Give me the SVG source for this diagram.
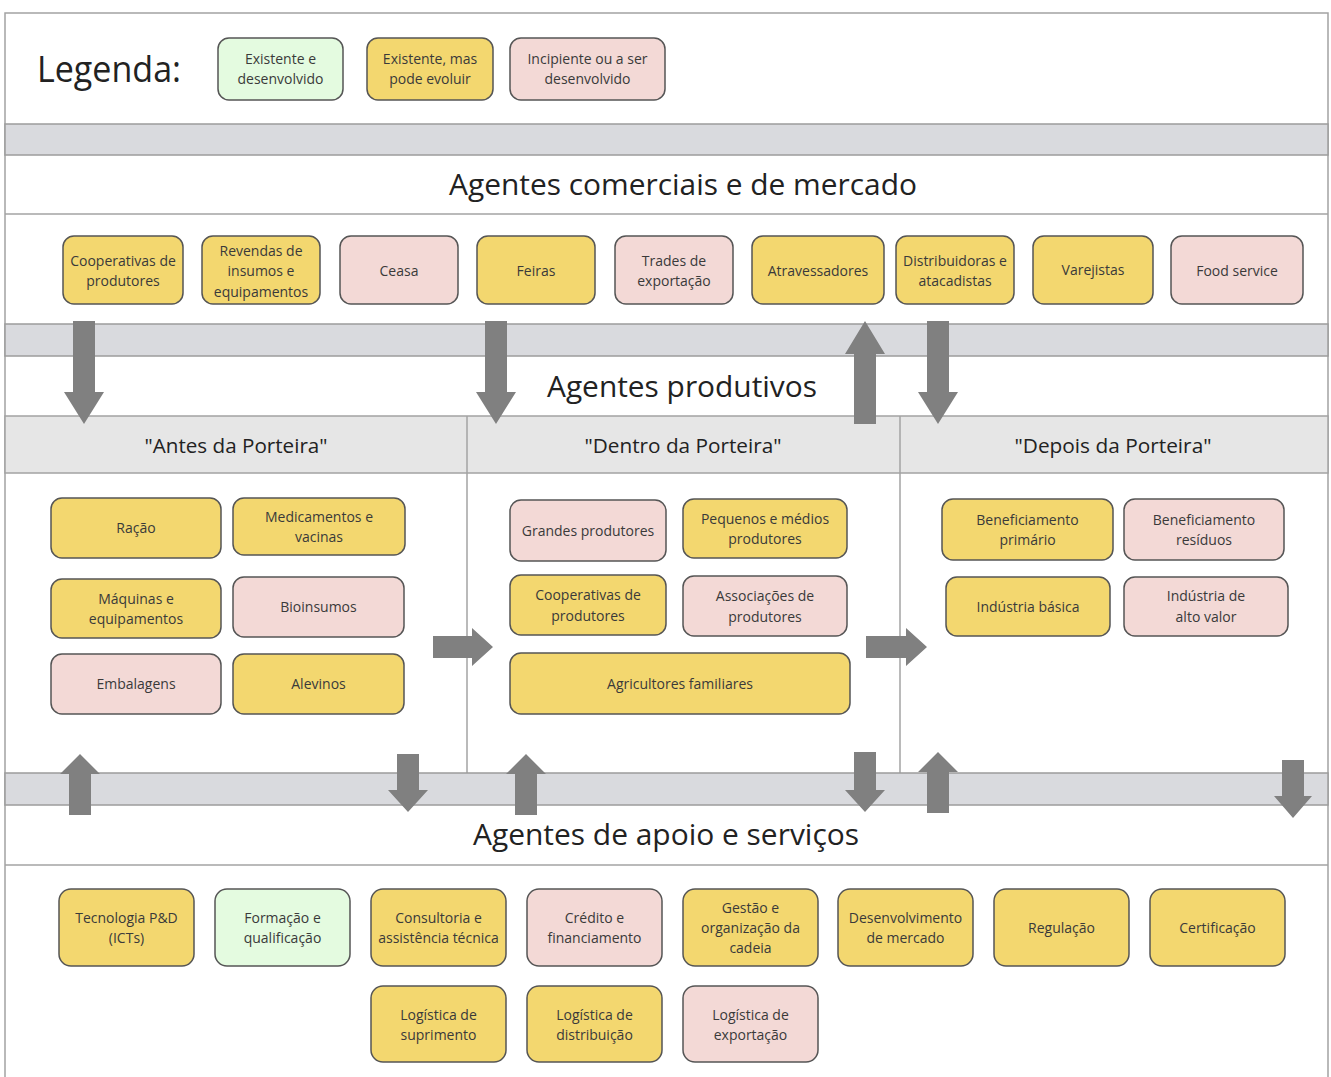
<svg xmlns="http://www.w3.org/2000/svg" width="1331" height="1077" viewBox="0 0 1331 1077">
  <style>
    .frame { fill: none; stroke: #a3a3a3; stroke-width: 1.5; }
    .band { fill: #d9dade; stroke: #9c9c9c; stroke-width: 1.5; }
    .sub { fill: #e6e6e6; stroke: #a3a3a3; stroke-width: 1.5; }
    .node rect { stroke: #555; stroke-width: 1.5; }
    .y rect { fill: #f3d76f; }
    .p rect { fill: #f3d9d6; }
    .g rect { fill: #e4fbe0; }
    .node text { font-family: "Open Sans", "Liberation Sans", sans-serif; font-size: 14px; fill: #3a3a3a; text-anchor: middle; }
    .h1 { font-family: "Open Sans", "Liberation Sans", sans-serif; font-size: 30px; fill: #222; text-anchor: middle; }
    .h2 { font-family: "Open Sans", "Liberation Sans", sans-serif; font-size: 20px; fill: #222; text-anchor: middle; }
    .arrow { fill: #808080; }
  </style>

  <!-- page background -->
  <rect x="0" y="0" width="1331" height="1077" fill="#ffffff"/>

  <!-- section frames and bands -->
  <g id="layout">
    <path class="frame" d="M5,1077 V13 H1328 V1077"/>
    <rect class="band" x="5" y="124" width="1323" height="31"/>
    <line class="frame" x1="5" y1="214" x2="1328" y2="214"/>
    <rect class="band" x="5" y="324" width="1323" height="32"/>
    <rect class="sub" x="5" y="416" width="1323" height="57"/>
    <line class="frame" x1="467" y1="416" x2="467" y2="773"/>
    <line class="frame" x1="900" y1="416" x2="900" y2="773"/>
    <rect class="band" x="5" y="773" width="1323" height="32"/>
    <line class="frame" x1="5" y1="865" x2="1328" y2="865"/>
  </g>

  <!-- titles -->
  <g id="titles">
    <text x="37" y="82" font-family="'Open Sans', 'Liberation Sans', sans-serif" font-size="36" fill="#222" textLength="144" lengthAdjust="spacingAndGlyphs">Legenda:</text>
    <text class="h1" x="683" y="195" textLength="468" lengthAdjust="spacingAndGlyphs">Agentes comerciais e de mercado</text>
    <text class="h1" x="682" y="397" textLength="270" lengthAdjust="spacingAndGlyphs">Agentes produtivos</text>
    <text class="h1" x="666" y="845" textLength="386" lengthAdjust="spacingAndGlyphs">Agentes de apoio e serviços</text>
    <text class="h2" x="236" y="453" textLength="183" lengthAdjust="spacingAndGlyphs">"Antes da Porteira"</text>
    <text class="h2" x="683" y="453" textLength="197" lengthAdjust="spacingAndGlyphs">"Dentro da Porteira"</text>
    <text class="h2" x="1113" y="453" textLength="197" lengthAdjust="spacingAndGlyphs">"Depois da Porteira"</text>
  </g>

  <!-- legend -->
  <g id="leg-green" class="node g"><rect x="218" y="38" width="125" height="62" rx="11"/><text x="280.5" y="64">Existente e</text><text x="280.5" y="84">desenvolvido</text></g>
  <g id="leg-yellow" class="node y"><rect x="367" y="38" width="126" height="62" rx="11"/><text x="430" y="64">Existente, mas</text><text x="430" y="84">pode evoluir</text></g>
  <g id="leg-pink" class="node p"><rect x="510" y="38" width="155" height="62" rx="11"/><text x="587.5" y="64">Incipiente ou a ser</text><text x="587.5" y="84">desenvolvido</text></g>

  <!-- comerciais e de mercado -->
  <g id="c-cooperativas" class="node y"><rect x="63" y="236" width="120" height="68" rx="11"/><text x="123" y="266">Cooperativas de</text><text x="123" y="286">produtores</text></g>
  <g id="c-revendas" class="node y"><rect x="202" y="236" width="118" height="68" rx="11"/><text x="261" y="256">Revendas de</text><text x="261" y="276">insumos e</text><text x="261" y="297">equipamentos</text></g>
  <g id="c-ceasa" class="node p"><rect x="340" y="236" width="118" height="68" rx="11"/><text x="399" y="276">Ceasa</text></g>
  <g id="c-feiras" class="node y"><rect x="477" y="236" width="118" height="68" rx="11"/><text x="536" y="276">Feiras</text></g>
  <g id="c-trades" class="node p"><rect x="615" y="236" width="118" height="68" rx="11"/><text x="674" y="266">Trades de</text><text x="674" y="286">exportação</text></g>
  <g id="c-atravessadores" class="node y"><rect x="752" y="236" width="132" height="68" rx="11"/><text x="818" y="276">Atravessadores</text></g>
  <g id="c-distribuidoras" class="node y"><rect x="896" y="236" width="118" height="68" rx="11"/><text x="955" y="266">Distribuidoras e</text><text x="955" y="286">atacadistas</text></g>
  <g id="c-varejistas" class="node y"><rect x="1033" y="236" width="120" height="68" rx="11"/><text x="1093" y="275">Varejistas</text></g>
  <g id="c-foodservice" class="node p"><rect x="1171" y="236" width="132" height="68" rx="11"/><text x="1237" y="276">Food service</text></g>

  <!-- antes da porteira -->
  <g id="a-racao" class="node y"><rect x="51" y="498" width="170" height="60" rx="11"/><text x="136" y="533">Ração</text></g>
  <g id="a-medicamentos" class="node y"><rect x="233" y="498" width="172" height="57" rx="11"/><text x="319" y="522">Medicamentos e</text><text x="319" y="542">vacinas</text></g>
  <g id="a-maquinas" class="node y"><rect x="51" y="579" width="170" height="59" rx="11"/><text x="136" y="604">Máquinas e</text><text x="136" y="624">equipamentos</text></g>
  <g id="a-bioinsumos" class="node p"><rect x="233" y="577" width="171" height="60" rx="11"/><text x="318.5" y="612">Bioinsumos</text></g>
  <g id="a-embalagens" class="node p"><rect x="51" y="654" width="170" height="60" rx="11"/><text x="136" y="689">Embalagens</text></g>
  <g id="a-alevinos" class="node y"><rect x="233" y="654" width="171" height="60" rx="11"/><text x="318.5" y="689">Alevinos</text></g>

  <!-- dentro da porteira -->
  <g id="d-grandes" class="node p"><rect x="510" y="500" width="156" height="61" rx="11"/><text x="588" y="536">Grandes produtores</text></g>
  <g id="d-pequenos" class="node y"><rect x="683" y="499" width="164" height="59" rx="11"/><text x="765" y="524">Pequenos e médios</text><text x="765" y="544">produtores</text></g>
  <g id="d-cooperativas" class="node y"><rect x="510" y="575" width="156" height="60" rx="11"/><text x="588" y="600">Cooperativas de</text><text x="588" y="621">produtores</text></g>
  <g id="d-associacoes" class="node p"><rect x="683" y="576" width="164" height="60" rx="11"/><text x="765" y="601">Associações de</text><text x="765" y="622">produtores</text></g>
  <g id="d-familiares" class="node y"><rect x="510" y="653" width="340" height="61" rx="11"/><text x="680" y="689">Agricultores familiares</text></g>

  <!-- depois da porteira -->
  <g id="p-benef-primario" class="node y"><rect x="942" y="499" width="171" height="61" rx="11"/><text x="1027.5" y="525">Beneficiamento</text><text x="1027.5" y="545">primário</text></g>
  <g id="p-benef-residuos" class="node p"><rect x="1124" y="499" width="160" height="61" rx="11"/><text x="1204" y="525">Beneficiamento</text><text x="1204" y="545">resíduos</text></g>
  <g id="p-ind-basica" class="node y"><rect x="946" y="577" width="164" height="59" rx="11"/><text x="1028" y="612">Indústria básica</text></g>
  <g id="p-ind-alto" class="node p"><rect x="1124" y="577" width="164" height="59" rx="11"/><text x="1206" y="601">Indústria de</text><text x="1206" y="622">alto valor</text></g>

  <!-- apoio e servicos -->
  <g id="s-tecnologia" class="node y"><rect x="59" y="889" width="135" height="77" rx="12"/><text x="126.5" y="923">Tecnologia P&amp;D</text><text x="126.5" y="943">(ICTs)</text></g>
  <g id="s-formacao" class="node g"><rect x="215" y="889" width="135" height="77" rx="12"/><text x="282.5" y="923">Formação e</text><text x="282.5" y="943">qualificação</text></g>
  <g id="s-consultoria" class="node y"><rect x="371" y="889" width="135" height="77" rx="12"/><text x="438.5" y="923">Consultoria e</text><text x="438.5" y="943">assistência técnica</text></g>
  <g id="s-credito" class="node p"><rect x="527" y="889" width="135" height="77" rx="12"/><text x="594.5" y="923">Crédito e</text><text x="594.5" y="943">financiamento</text></g>
  <g id="s-gestao" class="node y"><rect x="683" y="889" width="135" height="77" rx="12"/><text x="750.5" y="913">Gestão e</text><text x="750.5" y="933">organização da</text><text x="750.5" y="953">cadeia</text></g>
  <g id="s-desenvolvimento" class="node y"><rect x="838" y="889" width="135" height="77" rx="12"/><text x="905.5" y="923">Desenvolvimento</text><text x="905.5" y="943">de mercado</text></g>
  <g id="s-regulacao" class="node y"><rect x="994" y="889" width="135" height="77" rx="12"/><text x="1061.5" y="933">Regulação</text></g>
  <g id="s-certificacao" class="node y"><rect x="1150" y="889" width="135" height="77" rx="12"/><text x="1217.5" y="933">Certificação</text></g>
  <g id="s-log-suprimento" class="node y"><rect x="371" y="986" width="135" height="76" rx="12"/><text x="438.5" y="1020">Logística de</text><text x="438.5" y="1040">suprimento</text></g>
  <g id="s-log-distribuicao" class="node y"><rect x="527" y="986" width="135" height="76" rx="12"/><text x="594.5" y="1020">Logística de</text><text x="594.5" y="1040">distribuição</text></g>
  <g id="s-log-exportacao" class="node p"><rect x="683" y="986" width="135" height="76" rx="12"/><text x="750.5" y="1020">Logística de</text><text x="750.5" y="1040">exportação</text></g>

  <!-- block arrows between the layers -->
  <g id="connectors" class="arrow">
    <polygon points="73,321 95,321 95,392 104,392 84,424 64,392 73,392"/>
    <polygon points="485,321 507,321 507,392 516,392 496,424 476,392 485,392"/>
    <polygon points="854,424 876,424 876,354 885,354 865,321 845,354 854,354"/>
    <polygon points="927,321 949,321 949,392 958,392 938,424 918,392 927,392"/>
    <polygon points="433,636 472,636 472,628 493,647 472,666 472,658 433,658"/>
    <polygon points="866,636 906,636 906,628 927,647 906,666 906,658 866,658"/>
    <polygon points="69,815 91,815 91,774 100,774 80,754 60,774 69,774"/>
    <polygon points="397,754 419,754 419,790 428,790 408,812 388,790 397,790"/>
    <polygon points="515,815 537,815 537,774 546,774 526,754 506,774 515,774"/>
    <polygon points="854,752 876,752 876,790 885,790 865,812 845,790 854,790"/>
    <polygon points="927,813 949,813 949,772 958,772 938,752 918,772 927,772"/>
    <polygon points="1282,760 1304,760 1304,796 1312,796 1293,818 1274,796 1282,796"/>
  </g>
</svg>
